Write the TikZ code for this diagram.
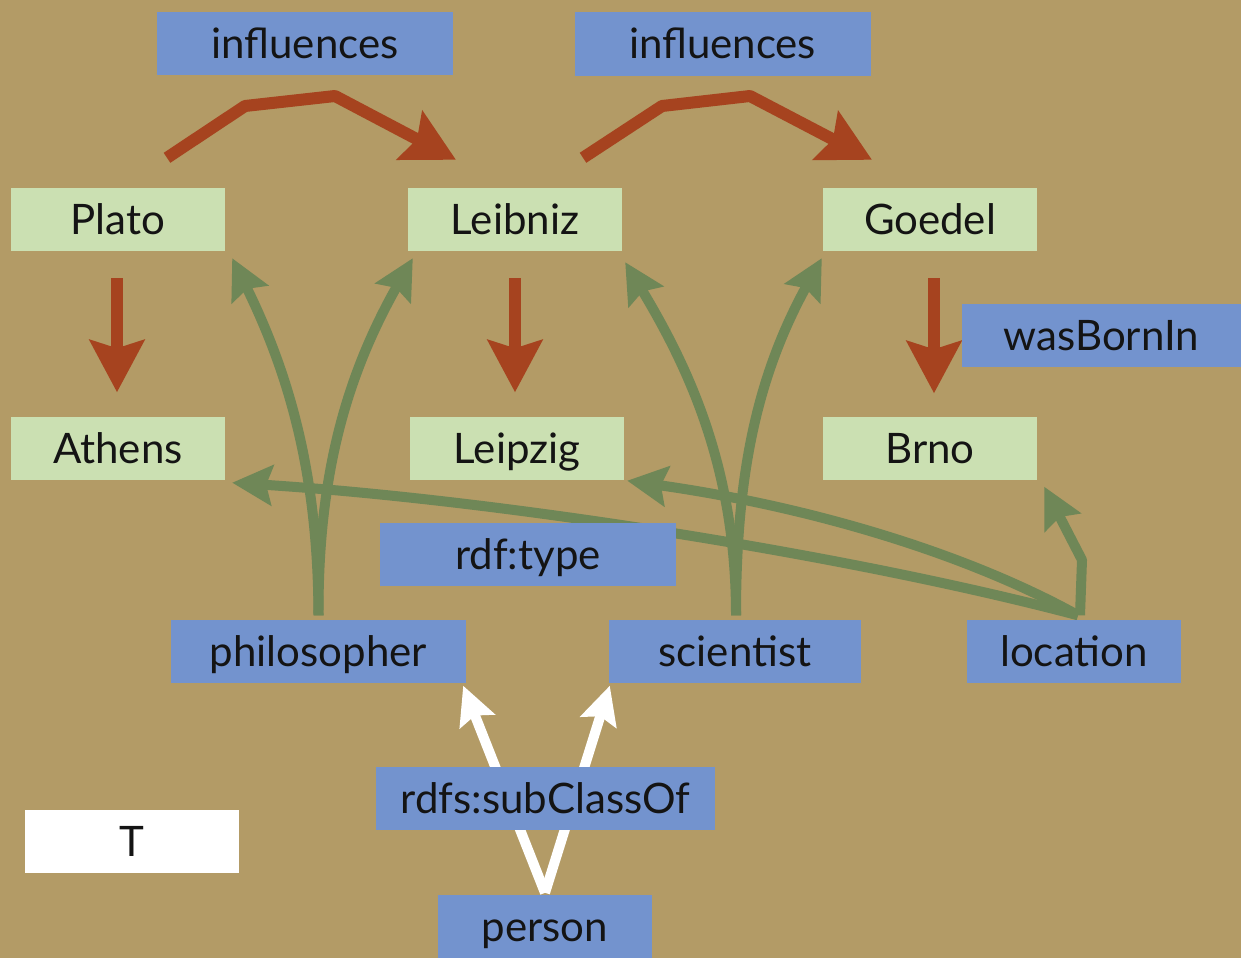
\documentclass[tikz,border=0pt]{standalone}
\usepackage{fontspec}
\setmainfont{Lato}
\usetikzlibrary{arrows.meta,calc}
\pgfdeclarelayer{bg}
\pgfdeclarelayer{edges}
\pgfsetlayers{bg,edges,main}
\definecolor{bgc}{HTML}{B39B66}
\definecolor{litc}{HTML}{CBE0B2}
\definecolor{resc}{HTML}{7393CE}
\definecolor{redc}{HTML}{A6431F}
\definecolor{grnc}{HTML}{6F8757}
\tikzset{
  box/.style={font=\fontsize{42}{50}\selectfont, text=black!92, inner sep=0pt, minimum height=63pt, text height=30pt, text depth=0pt, anchor=center},
  lit/.style={box, fill=litc, minimum width=214pt},
  res/.style={box, fill=resc},
  topbox/.style={box, fill=white, minimum width=214pt},
  redarr/.style={draw=redc, line width=12pt, line join=round, -{Stealth[length=52pt,width=54pt,inset=8pt]}},
  grnarr/.style={draw=grnc, line width=10pt, line join=round, -{Stealth[length=40pt,width=40pt,inset=6pt]}},
  wharr/.style={draw=white, line width=10pt, line join=round, -{Stealth[length=38pt,width=37pt,inset=6pt]}}
}
\begin{document}
\begin{tikzpicture}[x=1pt,y=-1pt]
\useasboundingbox (0,0) rectangle (1241,958);
\begin{pgfonlayer}{bg}
\fill[bgc] (0,0) rectangle (1241,958);
\end{pgfonlayer}

% nodes
\node[res, minimum width=296pt] (inf1) at (305,43.5) {influences};
\node[res, minimum width=296pt] (inf2) at (722.5,44) {influences};
\node[lit] (Plato) at (118,219.5) {Plato};
\node[lit] (Leibniz) at (515,219.5) {Leibniz};
\node[lit] (Goedel) at (930,219.5) {Goedel};
\node[res, minimum width=279pt] (born) at (1101.5,335) {wasBornIn};
\node[lit] (Athens) at (118,448) {Athens};
\node[lit] (Leipzig) at (517,448) {Leipzig};
\node[lit] (Brno) at (930,448) {Brno};
\node[res, minimum width=296pt] (type) at (528,554.5) {rdf:type};
\node[res, minimum width=295pt] (phil) at (318.5,651) {philosopher};
\node[res, minimum width=252pt] (sci) at (735,651) {scientist};
\node[res, minimum width=214pt] (loc) at (1074,651) {location};
\node[res, minimum width=339pt] (sub) at (545.5,798.5) {rdfs:subClassOf};
\node[res, minimum width=214pt] (person) at (545,926.5) {person};
\node[topbox] (T) at (132,841) {T};

\coordinate (r1a) at (245,106);
\coordinate (r1b) at (335,96);
\coordinate (r2a) at (662,106);
\coordinate (r2b) at (750,96);
\coordinate (lb) at (1082,560);

\begin{pgfonlayer}{edges}
% influences
\draw[redarr] ([shift={(49pt,30pt)}]Plato.north) -- (r1a) -- (r1b) -- ([shift={(-59pt,28pt)}]Leibniz.north);
\draw[redarr] ([shift={(68pt,30pt)}]Leibniz.north) -- (r2a) -- (r2b) -- ([shift={(-58pt,28pt)}]Goedel.north);
% wasBornIn
\draw[redarr, shorten <=27pt, shorten >=24pt] ([xshift=-1pt]Plato.south) -- ([xshift=-1pt]Athens.north);
\draw[redarr, shorten <=27pt, shorten >=24pt] (Leibniz.south) -- ([xshift=-2pt]Leipzig.north);
\draw[redarr, shorten <=27pt, shorten >=23pt] ([xshift=4pt]Goedel.south) -- ([xshift=4pt]Brno.north);
% rdf:type
\draw[grnarr] ([yshift=4pt]phil.north) .. controls (318,480) and (292,380) .. ([shift={(7pt,-7pt)}]Plato.south east);
\draw[grnarr] ([yshift=4pt]phil.north) .. controls (318,480) and (344,380) .. ([shift={(5pt,-7pt)}]Leibniz.south west);
\draw[grnarr] ([shift={(1pt,4pt)}]sci.north) .. controls (736,470) and (690,370) .. ([shift={(3pt,-11pt)}]Leibniz.south east);
\draw[grnarr] ([shift={(1pt,4pt)}]sci.north) .. controls (736,480) and (755,380) .. ([shift={(-1pt,-7pt)}]Goedel.south west);
\draw[grnarr] ([shift={(4pt,4pt)}]loc.north) .. controls (850,555) and (500,500) .. ([shift={(7pt,-3pt)}]Athens.south east);
\draw[grnarr] ([shift={(4pt,4pt)}]loc.north) .. controls (960,550) and (800,505) .. ([shift={(3pt,-1pt)}]Leipzig.south east);
\draw[grnarr] ([shift={(6pt,4pt)}]loc.north) -- (lb) -- ([shift={(7pt,-7pt)}]Brno.south east);
% rdfs:subClassOf
\draw[wharr] ([yshift=2pt]person.north) -- ([shift={(-3pt,-3pt)}]phil.south east);
\draw[wharr] ([yshift=2pt]person.north) -- ([shift={(1pt,-3pt)}]sci.south west);
\end{pgfonlayer}
\end{tikzpicture}
\end{document}
